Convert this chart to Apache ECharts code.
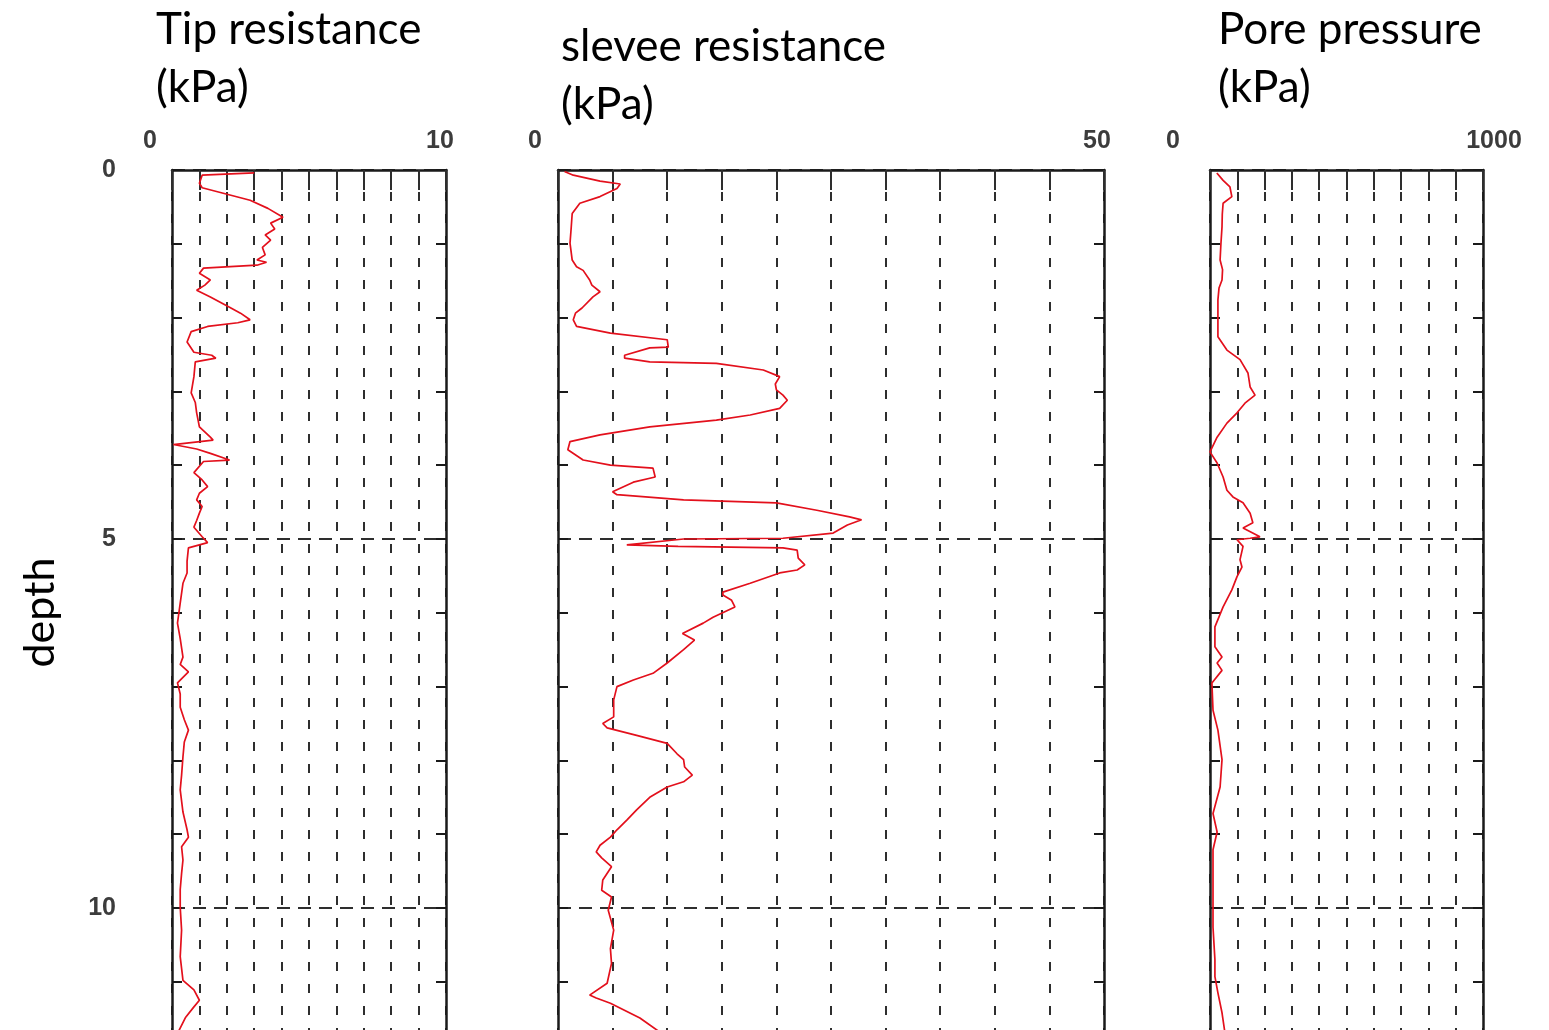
<!DOCTYPE html>
<html>
<head>
<meta charset="utf-8">
<script src="https://cdn.jsdelivr.net/npm/echarts@6/dist/echarts.min.js"></script>
<style>
html,body{margin:0;padding:0;background:#fff;}
#chart{width:1549px;height:1030px;}
</style>
</head>
<body>
<div id="chart"></div>
<script>
// ---- data (depth in m, values in kPa) ----
const panelTitles = ['Tip resistance\n(kPa)', 'slevee resistance\n(kPa)', 'Pore pressure\n(kPa)'];
const depthAxisName = 'depth';
const xMaxima = [10, 50, 1000];
const depthTickLabels = [0, 5, 10];

const tipDepth = [0.04,0.07,0.18,0.24,0.41,0.52,0.64,0.72,0.8,0.88,0.95,1.05,1.15,1.22,1.25,1.29,1.33,1.4,1.49,1.56,1.63,1.72,1.86,1.94,2.03,2.07,2.12,2.19,2.33,2.47,2.51,2.55,2.6,2.8,3.02,3.15,3.29,3.48,3.62,3.66,3.72,3.78,3.84,3.93,3.95,4.1,4.2,4.29,4.38,4.47,4.56,4.65,4.75,4.84,4.97,5.05,5.12,5.3,5.46,5.6,5.87,6.14,6.35,6.6,6.7,6.8,6.95,7.1,7.28,7.45,7.59,7.75,7.95,8.2,8.4,8.7,8.94,9.04,9.17,9.35,9.53,9.75,9.99,10.3,10.66,10.98,11.11,11.25,11.34,11.48,11.7];
const tipValues = [3.0,1.1,1.0,1.1,2.85,3.5,4.05,3.6,3.75,3.4,3.6,3.3,3.4,3.1,3.45,3.1,1.15,1.0,1.4,1.2,0.9,1.4,2.1,2.5,2.85,2.4,1.3,0.7,0.55,0.8,1.45,1.6,0.85,0.8,0.7,0.85,0.9,1.0,1.4,1.5,0.05,0.9,1.4,2.1,1.15,0.8,1.1,1.3,1.0,0.9,1.1,1.0,0.9,0.8,1.1,1.3,0.6,0.55,0.55,0.4,0.3,0.2,0.3,0.4,0.3,0.6,0.2,0.3,0.3,0.45,0.6,0.45,0.4,0.35,0.3,0.4,0.55,0.6,0.35,0.4,0.35,0.3,0.3,0.35,0.3,0.4,0.8,1.0,0.8,0.5,0.2];

const sleeveDepth = [0.02,0.07,0.15,0.19,0.25,0.36,0.45,0.59,0.8,0.99,1.22,1.31,1.36,1.49,1.56,1.65,1.72,1.87,1.94,2.03,2.12,2.21,2.3,2.4,2.41,2.51,2.55,2.6,2.62,2.71,2.8,2.9,2.98,3.05,3.12,3.23,3.32,3.39,3.48,3.59,3.68,3.79,3.93,4.0,4.04,4.16,4.23,4.36,4.4,4.47,4.51,4.61,4.7,4.74,4.81,4.92,4.99,5.0,5.08,5.1,5.12,5.15,5.26,5.35,5.42,5.46,5.6,5.72,5.76,5.83,5.92,6.06,6.14,6.28,6.37,6.5,6.68,6.82,6.91,7.0,7.18,7.41,7.5,7.56,7.66,7.77,7.91,7.99,8.09,8.2,8.29,8.36,8.5,8.67,8.81,8.94,9.04,9.15,9.24,9.32,9.44,9.62,9.76,9.85,10.03,10.3,10.55,10.75,11.02,11.18,11.22,11.29,11.49,11.7];
const sleeveValues = [0.6,1.4,3.85,5.7,5.4,3.85,2.0,1.3,1.2,1.1,1.3,1.7,2.3,2.9,3.1,3.85,3.2,2.2,1.6,1.4,1.7,4.8,10.0,10.1,8.4,6.1,6.1,8.4,14.5,18.8,20.3,19.9,20.0,20.6,21.0,20.3,17.6,14.5,8.4,3.85,1.1,0.9,2.3,4.8,8.7,8.9,6.9,5.0,5.4,11.5,20.0,23.7,26.7,27.8,26.5,25.2,20.6,11.5,6.3,11.0,20.6,21.9,22.0,22.6,21.9,20.3,17.6,15.1,15.1,15.9,16.2,14.2,13.3,11.4,12.5,11.5,10.0,8.7,6.9,5.4,5.1,5.1,4.1,4.5,7.2,10.0,10.9,11.5,11.6,12.3,11.5,10.0,8.4,7.2,6.3,5.4,4.8,3.85,3.5,4.0,4.9,4.1,4.0,4.9,4.6,5.1,4.8,4.9,4.5,2.9,3.5,4.8,7.5,9.5];

const poreDepth = [0.04,0.14,0.23,0.36,0.45,0.6,0.77,1.0,1.22,1.35,1.49,1.6,1.76,2.03,2.26,2.44,2.57,2.75,2.94,3.05,3.16,3.29,3.43,3.62,3.82,3.97,4.16,4.34,4.43,4.51,4.65,4.78,4.85,4.97,4.99,5.01,5.1,5.28,5.38,5.51,5.69,5.92,6.19,6.46,6.6,6.68,6.78,6.95,7.32,7.59,7.99,8.36,8.72,8.97,9.21,9.8,10.26,10.7,10.93,11.15,11.42,11.7];
const poreValues = [25,48,73,80,48,45,44,40,37,46,44,33,29,29,29,62,110,139,147,165,128,99,62,26,0,26,48,62,84,121,147,157,121,183,147,99,121,110,117,99,80,48,18,18,44,26,44,7,11,29,44,37,11,26,11,11,11,18,18,29,44,55];

// ---- layout ----
const chart = echarts.init(document.getElementById('chart'), null, {renderer: 'canvas'});
const gridTop = 170;
const gridHeight = 885;
const pxPerDepth = 73.8;
const depthMax = gridHeight / pxPerDepth;
const grids = [
  {left: 172, width: 274},
  {left: 558, width: 546},
  {left: 1210, width: 273}
];
const titlePos = [{left: 156, top: 1}, {left: 561, top: 18}, {left: 1218, top: 1}];
// label shift (px) for min / max x labels
const labelShift = [[-22, -6], [-23, -7], [-37, 11]];

const FONT_TITLE = 'Lato, "Open Sans", "Noto Sans", sans-serif';
const FONT_TICK = '"Liberation Sans", Arial, sans-serif';
const frameColor = '#1a1a1a';
const gridColor = '#2e2e2e';
const tickLabelColor = '#3c3c3c';

function zip(d, v) { return d.map((dd, i) => [v[i], dd]); }
const seriesData = [zip(tipDepth, tipValues), zip(sleeveDepth, sleeveValues), zip(poreDepth, poreValues)];

const option = {
  backgroundColor: '#ffffff',
  animation: false,
  title: panelTitles.map((t, i) => ({
    text: t, left: titlePos[i].left, top: titlePos[i].top, padding: 0,
    textStyle: {fontFamily: FONT_TITLE, fontSize: 44, fontWeight: 'normal', color: '#000', lineHeight: 58}
  })),
  grid: grids.map(g => ({left: g.left, width: g.width, top: gridTop, height: gridHeight, containLabel: false, outerBoundsMode: 'none'})),
  xAxis: xMaxima.map((m, i) => {
    const sL = labelShift[i][0], sR = labelShift[i][1];
    const tokenStyle = {fontFamily: FONT_TICK, fontSize: 25, fontWeight: 'bold', color: tickLabelColor};
    return {
      type: 'value', gridIndex: i, position: 'top', min: 0, max: m, interval: m / 10,
      axisLine: {show: true, onZero: false, lineStyle: {color: frameColor, width: 2.5}},
      axisTick: {show: true, inside: true, length: 20, lineStyle: {color: gridColor, width: 2}},
      splitLine: {show: true, lineStyle: {color: gridColor, width: 2, type: [9, 13]}},
      axisLabel: {
        show: true, margin: 16, fontFamily: FONT_TICK, fontSize: 25, fontWeight: 'bold', color: tickLabelColor,
        formatter: function (v) {
          if (v === 0) return '{l|0}';
          if (v === m) return '{r|' + m + '}';
          return '';
        },
        rich: {
          l: Object.assign({}, tokenStyle, {padding: sL < 0 ? [0, -2 * sL, 0, 0] : [0, 0, 0, 2 * sL]}),
          r: Object.assign({}, tokenStyle, {padding: sR < 0 ? [0, -2 * sR, 0, 0] : [0, 0, 0, 2 * sR]})
        }
      }
    };
  }),
  yAxis: [].concat(...grids.map((g, i) => [
    {
      type: 'value', gridIndex: i, position: 'left', inverse: true, min: 0, max: depthMax, interval: 1,
      name: i === 0 ? depthAxisName : '', nameLocation: 'middle', nameRotate: 90, nameGap: 110,
      nameTextStyle: {fontFamily: FONT_TITLE, fontSize: 43, color: '#000'},
      axisLine: {show: true, onZero: false, lineStyle: {color: frameColor, width: 2.5}},
      axisTick: {show: true, inside: true, length: 10, lineStyle: {color: frameColor, width: 2}},
      splitLine: {show: false},
      axisLabel: {
        show: i === 0, margin: 56, fontFamily: FONT_TICK, fontSize: 25, fontWeight: 'bold', color: tickLabelColor,
        formatter: v => (depthTickLabels.indexOf(v) >= 0 ? String(v) : '')
      }
    },
    {
      type: 'value', gridIndex: i, position: 'right', inverse: true, min: 0, max: depthMax, interval: 1,
      axisLine: {show: true, onZero: false, lineStyle: {color: frameColor, width: 2.5}},
      axisTick: {show: true, inside: true, length: 10, lineStyle: {color: frameColor, width: 2}},
      splitLine: {show: false},
      axisLabel: {show: false}
    },
    {
      type: 'value', gridIndex: i, position: 'left', inverse: true, min: 0, max: depthMax, interval: 5,
      axisLine: {show: false}, axisTick: {show: false}, axisLabel: {show: false},
      splitLine: {show: true, lineStyle: {color: gridColor, width: 2, type: [13, 8]}}
    }
  ])),
  series: seriesData.map((d, i) => ({
    type: 'line', xAxisIndex: i, yAxisIndex: i * 3, data: d,
    showSymbol: false, symbol: 'none', smooth: false,
    lineStyle: {color: '#e3101c', width: 1.7}, z: 5
  }))
};
chart.setOption(option);
</script>
</body>
</html>
